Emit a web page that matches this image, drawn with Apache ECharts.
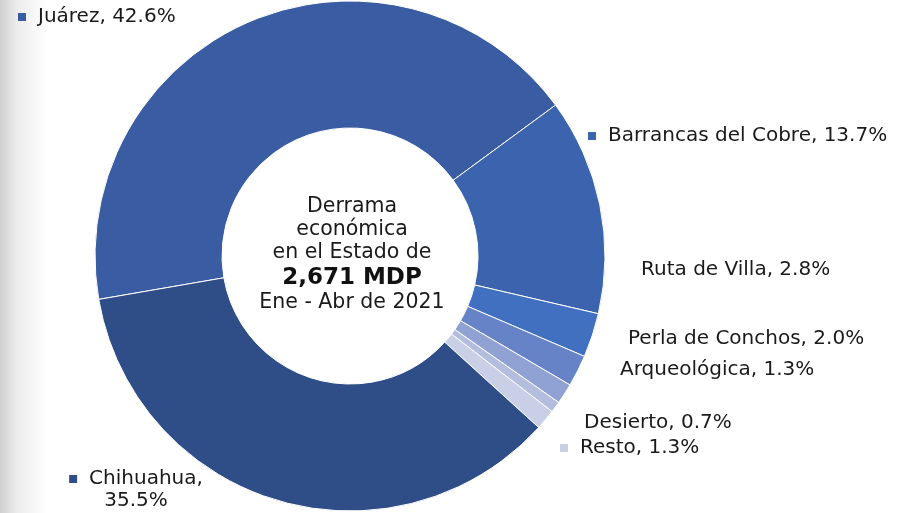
<!DOCTYPE html>
<html>
<head>
<meta charset="utf-8">
<script src="https://cdn.jsdelivr.net/npm/echarts@6/dist/echarts.min.js"></script>
<style>
  html, body { margin: 0; padding: 0; background: #ffffff; }
  #chart { width: 911px; height: 513px; }
</style>
</head>
<body>
<div id="chart"></div>
<script>
// Derrama económica por región turística, Ene - Abr 2021 (porcentaje)
const regions = ['Juárez', 'Barrancas del Cobre', 'Ruta de Villa', 'Perla de Conchos', 'Arqueológica', 'Desierto', 'Resto', 'Chihuahua'];
const shares = [42.6, 13.7, 2.8, 2.0, 1.3, 0.7, 1.3, 35.5];
const sliceColors = ['#3a5ca3', '#3c63ad', '#4270c0', '#6783c8', '#8fa2d3', '#b3bedf', '#c8cfe7', '#2f4e88'];
// which labels carry a small colour square
const showMarker = [true, true, false, false, false, false, true, true];

const totalText = '2,671 MDP';
const periodText = 'Ene - Abr de 2021';

// label anchor points (left edge / vertical centre)
const labelSpots = [
  { x: 18, y: 17, align: 'left' },
  { x: 588, y: 136, align: 'left' },
  { x: 641, y: 270, align: 'left' },
  { x: 628, y: 339, align: 'left' },
  { x: 620, y: 370, align: 'left' },
  { x: 584, y: 423, align: 'left' },
  { x: 560, y: 448, align: 'left' },
  { x: 136, y: 490, align: 'center' }
];

const FONT = 'DejaVu Sans';
const chart = echarts.init(document.getElementById('chart'), null, { renderer: 'canvas' });

const richStyles = {
  t: { fontFamily: FONT, fontSize: 20, color: '#1a1a1a', lineHeight: 22 },
  gap: { width: 12, height: 8 }
};
sliceColors.forEach((c, i) => {
  richStyles['sq' + i] = { width: 8, height: 8, backgroundColor: c, padding: 0 };
});

chart.setOption({
  backgroundColor: '#ffffff',
  animation: false,
  graphic: [
    {
      type: 'rect', left: 0, top: 0, z: -10,
      shape: { width: 48, height: 513 },
      style: {
        fill: new echarts.graphic.LinearGradient(0, 0, 1, 0, [
          { offset: 0, color: '#cfcfcf' },
          { offset: 0.35, color: '#ececec' },
          { offset: 1, color: '#ffffff' }
        ])
      }
    },
    {
      type: 'text', x: 352, y: 255, z: 10,
      style: {
        text: 'Derrama\neconómica\nen el Estado de\n{b|' + totalText + '}\n' + periodText,
        align: 'center', verticalAlign: 'middle',
        fontFamily: FONT, fontSize: 20.5, lineHeight: 23, fill: '#1a1a1a',
        rich: { b: { fontFamily: FONT, fontSize: 23, fontWeight: 'bold', lineHeight: 27, fill: '#111' } }
      }
    }
  ],
  series: [{
    type: 'pie',
    center: [350, 256],
    radius: [128, 255],
    startAngle: 189.8,
    clockwise: true,
    avoidLabelOverlap: false,
    itemStyle: { borderColor: '#ffffff', borderWidth: 1 },
    emphasis: { disabled: true },
    labelLine: { show: false },
    label: {
      show: true,
      position: 'outside',
      formatter: p => {
        const i = p.dataIndex;
        const name = i === 7 ? p.name + ',\n' : p.name + ', ';
        const body = '{t|' + name.replace('\n', '}\n{t|') + p.value.toFixed(1) + '%}';
        return showMarker[i] ? '{sq' + i + '|}{gap|}' + body : body;
      },
      rich: richStyles
    },
    labelLayout: p => {
      const s = labelSpots[p.dataIndex];
      return { x: s.x, y: s.y, align: s.align, verticalAlign: 'middle', hideOverlap: false, moveOverlap: null };
    },
    data: regions.map((r, i) => ({ name: r, value: shares[i], itemStyle: { color: sliceColors[i] } }))
  }]
});
</script>
</body>
</html>
